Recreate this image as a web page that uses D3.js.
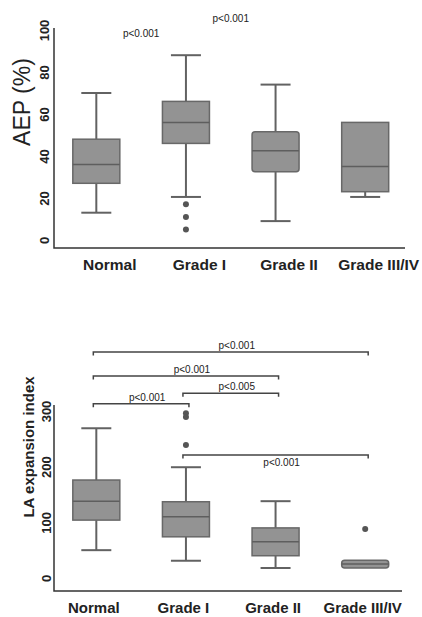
<!DOCTYPE html>
<html>
<head>
<meta charset="utf-8">
<script src="https://cdn.jsdelivr.net/npm/d3@7"></script>
<style>
  body { margin: 0; background: #fff; }
  svg { display: block; font-family: "Liberation Sans", Arial, sans-serif; }
  .box { fill: #939393; stroke: #686868; stroke-width: 1.5; }
  .whisker { stroke: #626262; stroke-width: 2; }
  .median { stroke: #5e5e5e; stroke-width: 1.5; }
  .outlier { fill: #555; }
  .axis-line { stroke: #333; stroke-width: 1.5; fill: none; }
  .bracket { stroke: #444; stroke-width: 1.5; fill: none; }
  .tick text { font-weight: bold; fill: #222; }
  .pval { font-size: 10px; fill: #222; }
</style>
</head>
<body>
<div id="chart"></div>
<script>
// categories shared by both panels
const categories = ['Normal', 'Grade I', 'Grade II', 'Grade III/IV']

// top panel: AEP (%)
const aepMin = [13, 20.5, 9, 20.5]
const aepQ1 = [27, 46, 32.5, 23]
const aepMedian = [36, 56, 42.5, 35]
const aepQ3 = [48, 66, 51.5, 56]
const aepMax = [70, 88, 74, 56]
const aepOutliers = [[], [17, 11, 5], [], []]
const aepTicks = [0, 20, 40, 60, 80, 100]
const aepPvals = [
    { a: 'Normal', b: 'Grade I', level: 98.5, label: 'p<0.001' },
    { a: 'Grade I', b: 'Grade II', level: 105.5, label: 'p<0.001' }
]

// bottom panel: LA expansion index
const laMin = [50, 31, 18, 18]
const laQ1 = [104, 74, 40, 18]
const laMedian = [138, 110, 65, 25]
const laQ3 = [176, 137, 90, 32]
const laMax = [269, 199, 138, 32]
const laOutliers = [[], [296, 289, 239], [], [88]]
const laTicks = [0, 100, 200, 300]
const laBrackets = [
    { a: 'Normal', b: 'Grade III/IV', level: 406, label: 'p<0.001', below: false },
    { a: 'Normal', b: 'Grade II', level: 363, label: 'p<0.001', below: false },
    { a: 'Grade I', b: 'Grade II', level: 332, label: 'p<0.005', below: false },
    { a: 'Normal', b: 'Grade I', level: 313, label: 'p<0.001', below: false },
    { a: 'Grade I', b: 'Grade III/IV', level: 221, label: 'p<0.001', below: true }
]

const W = 422, H = 617
const svg = d3.select('#chart').append('svg')
    .attr('width', W)
    .attr('height', H)

const x = d3.scalePoint().domain(categories).range([51.5, 410]).padding(0.5)
const boxW = 47
const capW = 30

function drawPanel(cfg) {
    let g = svg.append('g')
    let y = cfg.y

    // axes lines
    g.append('path').attr('class', 'axis-line')
        .attr('d', `M${cfg.axisX},${cfg.axisTop}V${cfg.axisY}H${cfg.axisRight}`)

    // y tick labels, rotated
    let ya = g.append('g')
        .attr('transform', `translate(${cfg.axisX},0)`)
        .call(d3.axisLeft(y).tickValues(cfg.ticks).tickSize(0))
    ya.select('.domain').remove()
    ya.selectAll('.tick text')
        .attr('x', 0).attr('dy', null)
        .attr('text-anchor', 'middle')
        .attr('dominant-baseline', 'central')
        .attr('transform', `translate(${cfg.tickDx},0) rotate(-90)`)
        .style('font-size', '13px')

    // x labels
    let xa = g.append('g')
        .attr('transform', `translate(0,${cfg.labelY})`)
        .call(d3.axisBottom(x).tickSize(0))
    xa.select('.domain').remove()
    xa.selectAll('.tick text')
        .attr('y', 0).attr('dy', null)
        .attr('dx', cfg.labelDx)
        .style('font-size', cfg.labelSize)
        .style('font-family', '"Liberation Sans", Arial, sans-serif')

    // y title
    g.append('text')
        .attr('transform', `translate(${cfg.titleX},${cfg.titleY}) rotate(-90)`)
        .attr('text-anchor', 'middle')
        .style('font-size', cfg.titleSize)
        .style('font-weight', cfg.titleWeight)
        .attr('fill', '#222')
        .text(cfg.title)

    categories.forEach((c, i) => {
        let cx = x(c)
        let bg = g.append('g')
        // whiskers
        bg.append('line').attr('class', 'whisker')
            .attr('x1', cx).attr('x2', cx)
            .attr('y1', y(cfg.max[i])).attr('y2', y(cfg.q3[i]))
        bg.append('line').attr('class', 'whisker')
            .attr('x1', cx).attr('x2', cx)
            .attr('y1', y(cfg.q1[i])).attr('y2', y(cfg.min[i]))
        if (cfg.max[i] > cfg.q3[i]) {
            bg.append('line').attr('class', 'whisker')
                .attr('x1', cx - capW / 2).attr('x2', cx + capW / 2)
                .attr('y1', y(cfg.max[i])).attr('y2', y(cfg.max[i]))
        }
        if (cfg.min[i] < cfg.q1[i]) {
            bg.append('line').attr('class', 'whisker')
                .attr('x1', cx - capW / 2).attr('x2', cx + capW / 2)
                .attr('y1', y(cfg.min[i])).attr('y2', y(cfg.min[i]))
        }
        bg.append('rect').attr('class', 'box')
            .attr('x', cx - boxW / 2)
            .attr('width', boxW)
            .attr('y', y(cfg.q3[i]))
            .attr('height', y(cfg.q1[i]) - y(cfg.q3[i]))
            .attr('rx', cfg.q3[i] - cfg.q1[i] < 20 ? 3 : 0)
        bg.append('line').attr('class', 'median')
            .attr('x1', cx - boxW / 2).attr('x2', cx + boxW / 2)
            .attr('y1', y(cfg.median[i])).attr('y2', y(cfg.median[i]))
        bg.selectAll('circle').data(cfg.outliers[i]).enter().append('circle')
            .attr('class', 'outlier')
            .attr('cx', cx).attr('cy', d => y(d)).attr('r', 3)
    })
    return g
}

// top panel
let yTop = d3.scaleLinear().domain([0, 100]).range([240, 30])
let topPanel = drawPanel({
    y: yTop, ticks: aepTicks,
    min: aepMin, q1: aepQ1, median: aepMedian, q3: aepQ3, max: aepMax, outliers: aepOutliers,
    axisX: 54, axisTop: 28, axisY: 248, axisRight: 405,
    tickDx: -10, labelY: 270, labelDx: 13, labelSize: '15.5px',
    title: 'AEP (%)', titleX: 30, titleY: 102, titleSize: '23px', titleWeight: 'normal'
})
topPanel.selectAll('.pval').data(aepPvals).enter().append('text')
    .attr('class', 'pval')
    .attr('text-anchor', 'middle')
    .attr('x', d => (x(d.a) + x(d.b)) / 2)
    .attr('y', d => yTop(d.level))
    .attr('dy', '0.35em')
    .text(d => d.label)

// bottom panel
let yBot = d3.scaleLinear().domain([0, 300]).range([578, 411])
let botPanel = drawPanel({
    y: yBot, ticks: laTicks,
    min: laMin, q1: laQ1, median: laMedian, q3: laQ3, max: laMax, outliers: laOutliers,
    axisX: 54, axisTop: 405, axisY: 591, axisRight: 402,
    tickDx: -8, labelY: 613, labelDx: -3, labelSize: '15px',
    title: 'LA expansion index', titleX: 34, titleY: 447, titleSize: '15px', titleWeight: 'bold'
})
let br = botPanel.selectAll('.br').data(laBrackets).enter().append('g')
br.append('path').attr('class', 'bracket')
    .attr('d', d => {
        let x1 = x(d.a) - 3, x2 = x(d.b) + 3, yy = yBot(d.level)
        return `M${x1},${yy + 3.5}V${yy}H${x2}V${yy + 3.5}`
    })
br.append('text').attr('class', 'pval')
    .attr('text-anchor', 'middle')
    .attr('x', d => (x(d.a) + x(d.b)) / 2 + 6)
    .attr('y', d => yBot(d.level) + (d.below ? 11 : -3))
    .text(d => d.label)
</script>
</body>
</html>
